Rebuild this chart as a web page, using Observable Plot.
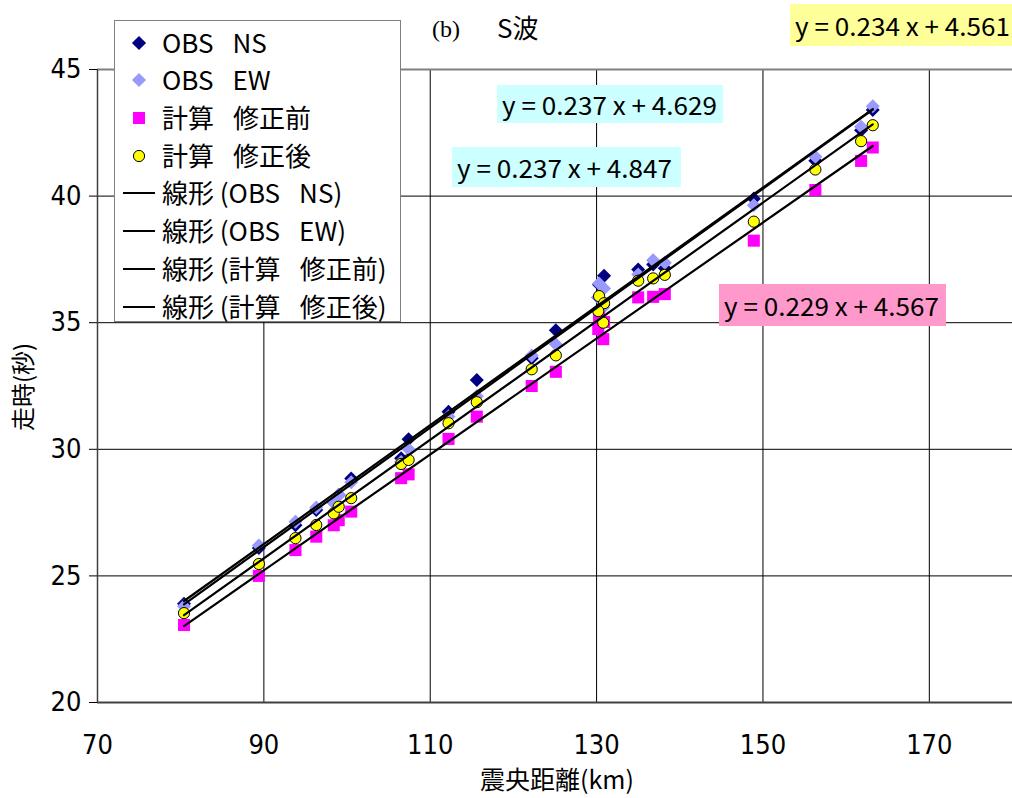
<!DOCTYPE html>
<html><head><meta charset="utf-8">
<script src="https://cdn.jsdelivr.net/npm/d3@7"></script>
<script src="https://cdn.jsdelivr.net/npm/@observablehq/plot@0.6"></script>
<style>
body{margin:0;background:#fff;}
#wrap{position:relative;width:1012px;height:798px;overflow:hidden;font-family:"Noto Sans CJK JP",sans-serif;color:#000;}
#wrap svg{position:absolute;left:0;top:0;}
.abs{position:absolute;white-space:pre;line-height:1;}
.eq{position:absolute;white-space:pre;line-height:1;display:flex;align-items:center;box-sizing:border-box;padding-left:5px;font-family:"Noto Sans CJK JP",sans-serif;}
.eq span{display:inline-block;font-size:25px;transform-origin:0 50%;}
.lg{position:absolute;white-space:pre;font-size:26px;line-height:1;font-family:"Noto Sans CJK JP",sans-serif;}
.lg .sp{font-size:19px;}
</style>
</head><body><div id="wrap"></div>
<script>
// ---- data ----
const distance   = [80.4, 89.4, 93.8, 96.3, 98.4, 99.0, 100.5, 106.5, 107.4, 112.2, 115.6, 122.2, 125.1, 130.3, 130.9, 130.2, 130.8, 135.0, 136.8, 138.2, 148.9, 156.3, 161.8, 163.2];
const obsNS      = [23.9, 26.1, 27.0, 27.6, 27.9, 28.2, 28.85, 29.65, 30.4, 31.48, 32.74, 33.6, 34.7, 36.5, 36.85, 36.0, 35.7, 37.1, 37.3, 37.15, 39.9, 41.4, 42.6, 43.4];
const obsEW      = [23.8, 26.2, 27.14, 27.7, 27.9, 28.2, 28.7, 29.5, 30.0, 31.3, 32.1, 33.7, 34.15, 36.55, 36.35, 36.0, 35.6, 36.9, 37.47, 37.37, 39.64, 41.55, 42.74, 43.55];
const calcBefore = [23.06, 25.0, 26.02, 26.55, 27.0, 27.2, 27.54, 28.86, 29.01, 30.41, 31.29, 32.5, 33.06, 35.2, 35.03, 34.75, 34.35, 36.0, 36.02, 36.13, 38.24, 40.24, 41.39, 41.92];
const calcAfter  = [23.53, 25.47, 26.49, 27.01, 27.47, 27.73, 28.07, 29.42, 29.58, 31.03, 31.86, 33.16, 33.71, 36.05, 35.77, 35.46, 35.0, 36.66, 36.75, 36.89, 38.99, 41.05, 42.17, 42.80];
const fitLabels  = ["y = 0.237 x + 4.847", "y = 0.237 x + 4.629", "y = 0.229 x + 4.567", "y = 0.234 x + 4.561"];
const xTicks = [70, 90, 110, 130, 150, 170];
const yTicks = [20, 25, 30, 35, 40, 45];
const seriesNames = ["OBS　NS", "OBS　EW", "計算　修正前", "計算　修正後"];

const rows = distance.map((d, i) => ({d, ns: obsNS[i], ew: obsEW[i], before: calcBefore[i], after: calcAfter[i]}));

const numFont = '"Liberation Sans Narrow","DejaVu Sans Condensed","DejaVu Sans",sans-serif';
const reg = (key) => Plot.linearRegressionY(rows, {x: "d", y: key, ci: 0, stroke: "#000", strokeWidth: 2.2});

const chart = Plot.plot({
  width: 1012, height: 798,
  marginLeft: 97, marginRight: 0, marginTop: 69, marginBottom: 96,
  x: {domain: [70, 180]},
  y: {domain: [20, 45]},
  style: {fontFamily: numFont, fontSize: "27px", color: "#000", background: "transparent"},
  marks: [
    Plot.gridX([90, 110, 130, 150, 170], {stroke: "#000", strokeOpacity: 1, strokeWidth: 1}),
    Plot.gridY([25, 30, 35, 40], {stroke: "#000", strokeOpacity: 1, strokeWidth: 1}),
    Plot.ruleY([45], {stroke: "#808080", strokeWidth: 2}),
    Plot.ruleX([70], {stroke: "#404040", strokeWidth: 1.5}),
    Plot.ruleY([20], {stroke: "#404040", strokeWidth: 2}),
    Plot.axisX({ticks: xTicks, tickSize: 0, tickPadding: 32, fontSize: 27, label: null}),
    Plot.axisY({ticks: yTicks, tickSize: 8, tickPadding: 8, fontSize: 27, label: null}),
    Plot.dot(rows, {x: "d", y: "ns", symbol: "square", rotate: 45, r: 5.6, fill: "#000080"}),
    Plot.dot(rows, {x: "d", y: "ew", symbol: "square", rotate: 45, r: 5.6, fill: "#9999FF"}),
    Plot.dot(rows, {x: "d", y: "before", symbol: "square", r: 6.8, fill: "#FF00FF"}),
    Plot.dot(rows, {x: "d", y: "after", r: 5.6, fill: "#FFFF00", stroke: "#000", strokeWidth: 1}),
    reg("ns"), reg("ew"), reg("before"), reg("after")
  ]
});

const wrap = document.getElementById("wrap");
wrap.appendChild(chart);

function addDiv(cls, text, css) {
  const el = document.createElement("div");
  el.className = cls;
  el.textContent = text;
  Object.assign(el.style, css);
  wrap.appendChild(el);
  return el;
}

// title
addDiv("abs", "(b)", {left: "432px", top: "17px", fontSize: "24px", fontFamily: '"Liberation Serif","DejaVu Serif",serif'});
addDiv("abs", "S波", {left: "497px", top: "14px", fontSize: "26px"});

// axis titles
addDiv("abs", "震央距離(km)", {left: "557px", top: "766px", fontSize: "25px", transform: "translateX(-50%)"});
addDiv("abs", "走時(秒)", {left: "22px", top: "387px", fontSize: "24px", transform: "translate(-50%,-50%) rotate(-90deg)"});

// equation labels
const eqBoxes = [
  {left: 452, top: 147, w: 229, h: 40, bg: "#CCFFFF"},
  {left: 497, top: 85, w: 226, h: 38, bg: "#CCFFFF"},
  {left: 719, top: 284, w: 227, h: 42, bg: "#FF99CC"},
  {left: 790, top: 4, w: 222, h: 42, bg: "#FFFF99"}
];
eqBoxes.forEach((b, i) => {
  const box = addDiv("eq", "", {left: b.left + "px", top: b.top + "px", width: b.w + "px", height: b.h + "px", background: b.bg});
  const sp = document.createElement("span");
  sp.textContent = fitLabels[i];
  box.appendChild(sp);
  const w = sp.getBoundingClientRect().width;
  sp.style.transform = `scaleX(${215 / w})`;
});

// legend
const lg = document.createElement("div");
Object.assign(lg.style, {position: "absolute", left: "114px", top: "20px", width: "287px", height: "302px", border: "1px solid #808080", background: "#fff", boxSizing: "border-box"});
wrap.appendChild(lg);
const rowY = [43, 80, 118, 156, 193, 231, 269, 307];
const legendLabels = seriesNames.concat(seriesNames.map(s => "線形 (" + s + ")"));
const svgNS = "http://www.w3.org/2000/svg";
const lsvg = document.createElementNS(svgNS, "svg");
lsvg.setAttribute("width", 1012); lsvg.setAttribute("height", 798);
lsvg.style.position = "absolute"; lsvg.style.left = "0"; lsvg.style.top = "0";
wrap.appendChild(lsvg);
function sh(tag, attrs) { const e = document.createElementNS(svgNS, tag); for (const k in attrs) e.setAttribute(k, attrs[k]); lsvg.appendChild(e); }
sh("rect", {x: 139 - 5, y: rowY[0] - 5, width: 10, height: 10, fill: "#000080", transform: `rotate(45 139 ${rowY[0]})`});
sh("rect", {x: 139 - 5, y: rowY[1] - 5, width: 10, height: 10, fill: "#9999FF", transform: `rotate(45 139 ${rowY[1]})`});
sh("rect", {x: 139 - 6, y: rowY[2] - 6, width: 12, height: 12, fill: "#FF00FF"});
sh("circle", {cx: 139, cy: rowY[3], r: 5.6, fill: "#FFFF00", stroke: "#000", "stroke-width": 1});
for (let i = 4; i < 8; i++) sh("line", {x1: 123, x2: 155, y1: rowY[i], y2: rowY[i], stroke: "#000", "stroke-width": 2});
legendLabels.forEach((t, i) => {
  const el = addDiv("lg", "", {left: "162px", top: (rowY[i] - 14) + "px"});
  t.split("　").forEach((part, j) => {
    if (j > 0) { const s = document.createElement("span"); s.className = "sp"; s.textContent = "　"; el.appendChild(s); }
    el.appendChild(document.createTextNode(part));
  });
});
</script>
</body></html>
